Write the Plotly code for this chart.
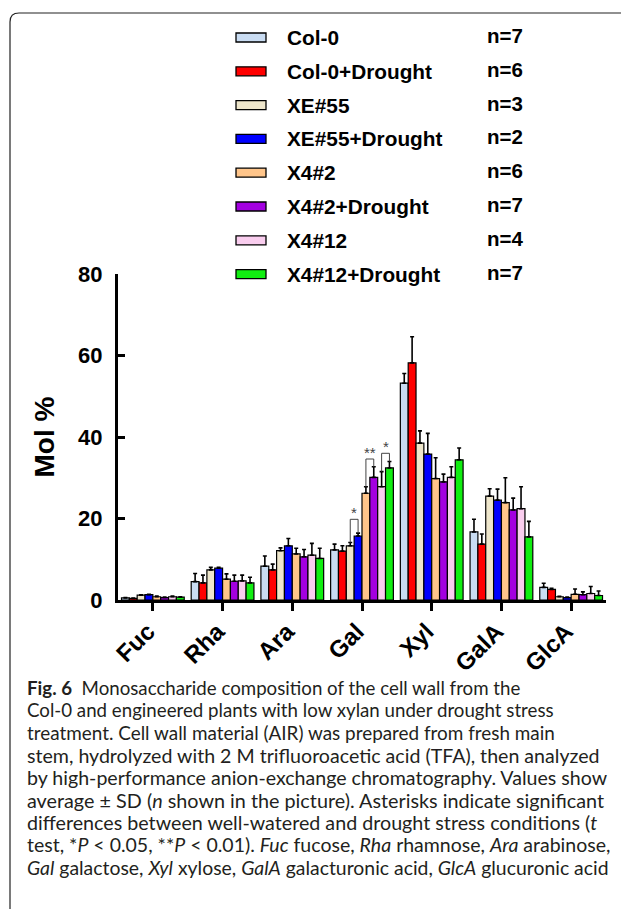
import plotly.graph_objects as go

categories = ["Fuc", "Rha", "Ara", "Gal", "Xyl", "GalA", "GlcA"]
series_names = ["Col-0", "Col-0+Drought", "XE#55", "XE#55+Drought",
                "X4#2", "X4#2+Drought", "X4#12", "X4#12+Drought"]
n_labels = ["n=7", "n=6", "n=3", "n=2", "n=6", "n=7", "n=4", "n=7"]
colors = ["#C9DCF2", "#FF0000", "#EEE6CB", "#0000FF",
          "#FFC58A", "#A300E0", "#F9CDEE", "#11EE11"]

# mean values per series (Fuc, Rha, Ara, Gal, Xyl, GalA, GlcA)
col0 = [0.5, 4.5, 8.3, 12.3, 53.2, 16.7, 3.1]
col0_d = [0.4, 4.2, 7.4, 12.0, 58.2, 13.7, 2.6]
xe55 = [1.2, 7.4, 12.1, 13.3, 38.5, 25.5, 0.8]
xe55_d = [1.3, 7.8, 13.3, 15.7, 35.8, 24.5, 0.6]
x42 = [0.8, 5.1, 11.3, 26.2, 29.8, 23.9, 1.4]
x42_d = [0.6, 4.6, 10.6, 30.1, 29.0, 22.1, 1.3]
x412 = [0.8, 4.7, 11.0, 27.8, 30.1, 22.4, 1.6]
x412_d = [0.7, 4.2, 10.2, 32.4, 34.4, 15.5, 1.1]

# standard deviations
col0_sd = [0.1, 2.0, 2.5, 1.4, 2.4, 3.1, 1.0]
col0_d_sd = [0.1, 1.9, 1.4, 1.3, 6.4, 2.5, 0.3]
xe55_sd = [0.1, 0.6, 0.7, 0.8, 3.0, 1.8, 0.1]
xe55_d_sd = [0.1, 0.2, 1.8, 0.7, 5.1, 2.7, 0.1]
x42_sd = [0.2, 1.3, 1.4, 1.6, 5.1, 6.1, 1.3]
x42_d_sd = [0.1, 1.5, 1.8, 2.6, 1.9, 2.9, 0.7]
x412_sd = [0.2, 1.4, 2.9, 3.7, 2.6, 5.4, 1.7]
x412_d_sd = [0.1, 1.4, 2.5, 1.6, 2.9, 3.8, 1.1]

means = [col0, col0_d, xe55, xe55_d, x42, x42_d, x412, x412_d]
sds = [col0_sd, col0_d_sd, xe55_sd, xe55_d_sd, x42_sd, x42_d_sd, x412_sd, x412_d_sd]

# significance brackets: (category, left series, right series, label, bracket top)
sig_cat = ["Gal", "Gal", "Gal"]
sig_left = [2, 4, 6]
sig_right = [3, 5, 7]
sig_text = ["*", "**", "*"]
sig_top = [19.8, 34.6, 36.0]

caption_lines = [
    "<b>Fig. 6</b>  Monosaccharide composition of the cell wall from the",
    "Col-0 and engineered plants with low xylan under drought stress",
    "treatment. Cell wall material (AIR) was prepared from fresh main",
    "stem, hydrolyzed with 2 M trifluoroacetic acid (TFA), then analyzed",
    "by high-performance anion-exchange chromatography. Values show",
    "average ± SD (<i>n</i> shown in the picture). Asterisks indicate significant",
    "differences between well-watered and drought stress conditions (<i>t</i>",
    "test, *<i>P</i> < 0.05, **<i>P</i> < 0.01). <i>Fuc</i> fucose, <i>Rha</i> rhamnose, <i>Ara</i> arabinose,",
    "<i>Gal</i> galactose, <i>Xyl</i> xylose, <i>GalA</i> galacturonic acid, <i>GlcA</i> glucuronic acid",
]
# per-line type size, approximating the justified setting of the original caption
caption_sizes = [18.7, 18.7, 18.9, 19.6, 19.6, 19.8, 19.7, 19.5, 19.4]

# the page body adds an 8 px margin around the figure
OFF = 8
W, H = 629 - 2 * OFF, 917 - 2 * OFF
ML, MR, MT, MB = 110, 15, 266, 309
PW, PH = W - ML - MR, H - MT - MB
BARGAP = 0.1
NS = len(series_names)
ARIAL = "Liberation Sans, Arial, sans-serif"


def fx(px):
    """page pixel x -> paper coordinate"""
    return (px - OFF - ML) / PW


def fy(py):
    """page pixel y -> paper coordinate"""
    return (H - MB - (py - OFF)) / PH


xi = list(range(len(categories)))
fig = go.Figure()
for k in range(NS):
    fig.add_trace(go.Bar(
        x=xi, y=means[k], name=series_names[k],
        marker=dict(color=colors[k], line=dict(color="black", width=1.2)),
        error_y=dict(type="data", symmetric=False, array=sds[k],
                     arrayminus=[0] * len(categories),
                     color="black", thickness=1.6, width=2),
        showlegend=False,
    ))


def bar_x(cat_idx, k):
    slot = (1 - BARGAP) / NS
    return cat_idx - (1 - BARGAP) / 2 + (k + 0.5) * slot


shapes = []
annotations = []
for c, l, r, t, top in zip(sig_cat, sig_left, sig_right, sig_text, sig_top):
    ci = categories.index(c)
    xl, xr = bar_x(ci, l), bar_x(ci, r)
    yl = means[l][ci] + sds[l][ci]
    yr = means[r][ci] + sds[r][ci]
    shapes.append(dict(type="path", xref="x", yref="y",
                       path=f"M{xl},{yl} L{xl},{top} L{xr},{top} L{xr},{yr}",
                       line=dict(color="#444", width=1)))
    annotations.append(dict(x=(xl + xr) / 2, y=top, xref="x", yref="y",
                            text=t, showarrow=False, yanchor="bottom", yshift=-4,
                            font=dict(family=ARIAL, size=15, color="#444")))

# manual legend (wide swatches like the original)
for k, (name, nl, col) in enumerate(zip(series_names, n_labels, colors)):
    yc = 37.5 + 33.8 * k
    shapes.append(dict(type="rect", xref="paper", yref="paper",
                       x0=fx(236), x1=fx(266), y0=fy(yc - 4.5), y1=fy(yc + 4.5),
                       fillcolor=col, line=dict(color="black", width=1.3)))
    annotations.append(dict(x=fx(285), y=fy(yc), xref="paper", yref="paper",
                            text=name, showarrow=False, xanchor="left", yanchor="middle",
                            font=dict(family=ARIAL, size=20.8, color="black", weight="bold")))
    annotations.append(dict(x=fx(485), y=fy(yc - 2), xref="paper", yref="paper",
                            text=nl, showarrow=False, xanchor="left", yanchor="middle",
                            font=dict(family=ARIAL, size=20.5, color="black", weight="bold")))

# caption
for i, (line, sz) in enumerate(zip(caption_lines, caption_sizes)):
    annotations.append(dict(x=fx(25), y=fy(688 + 22.4 * i), xref="paper", yref="paper",
                            text=line, showarrow=False, xanchor="left", yanchor="middle",
                            font=dict(family="Lato, Noto Sans, sans-serif", size=sz,
                                      color="#231F20")))

# frame of the figure box
r = 9
shapes.append(dict(type="path", xref="paper", yref="paper",
                   path=(f"M{fx(10)},{fy(930)} L{fx(10)},{fy(13 + r)} "
                         f"Q{fx(10)},{fy(13)} {fx(10 + r)},{fy(13)} "
                         f"L{fx(622)},{fy(13)} Q{fx(626)},{fy(13)} {fx(627)},{fy(16)}"),
                   line=dict(color="#222", width=1.2)))

fig.update_layout(
    width=W, height=H,
    margin=dict(l=ML, r=MR, t=MT, b=MB, pad=0),
    paper_bgcolor="white", plot_bgcolor="white",
    barmode="group", bargap=BARGAP, bargroupgap=0,
    shapes=shapes, annotations=annotations,
    xaxis=dict(range=[-0.5, len(categories) - 0.5], tickmode="array",
               tickvals=xi, ticktext=categories, tickangle=-45,
               showline=True, linecolor="black", linewidth=3,
               ticks="outside", ticklen=8, tickwidth=3, tickcolor="black",
               showgrid=False, zeroline=False,
               ticklabelshift=-5, ticklabelstandoff=-3,
               tickfont=dict(family=ARIAL, size=24, color="black", weight="bold")),
    yaxis=dict(range=[0, 80], tickvals=[0, 20, 40, 60, 80],
               showline=True, linecolor="black", linewidth=3,
               ticks="inside", ticklen=7, tickwidth=3, tickcolor="black",
               showgrid=False, zeroline=False, ticklabelstandoff=8,
               tickfont=dict(family=ARIAL, size=22, color="black", weight="bold"),
               title=dict(text="Mol %", standoff=16,
                          font=dict(family=ARIAL, size=28, color="black", weight="bold"))),
)

fig.write_html("out.html")
